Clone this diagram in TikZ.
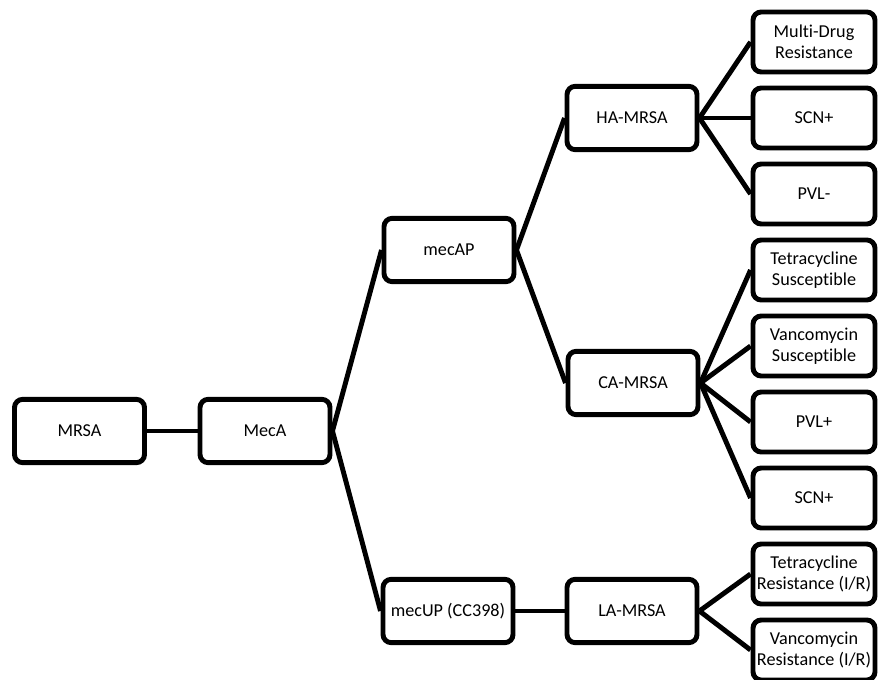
\documentclass[tikz,border=0pt]{standalone}
\usepackage{fontspec}
\setmainfont{Carlito}[Ligatures=NoCommon]

\begin{document}
\begin{tikzpicture}[x=0.03cm,y=-0.03cm,line width=4.2pt,
		every node/.style={font=\fontsize{15.5}{18}\selectfont,align=center,inner sep=2pt},
		type box/.style={draw,rounded corners=7pt,minimum width=3.9cm,minimum height=1.9cm},
		trait box/.style={draw,rounded corners=7pt,minimum width=3.66cm,minimum height=1.8cm}]
		\useasboundingbox (0,0) rectangle (879,679);

		\node [type box] (mrsa) at (79.5,431) {MRSA};
		\node [type box] (meca) at (265,431) {MecA};
		\node [type box] (mecap) at (449,250) {mecAP};
		\node [type box] (mecup) at (448,611) {mecUP (CC398)};
		\node [type box] (ha) at (632,118) {HA-MRSA};
		\node [type box] (ca) at (633,383) {CA-MRSA};
		\node [type box] (la) at (632,611) {LA-MRSA};

		\node [trait box] (mdr) at (814,42) {Multi-Drug\\Resistance};
		\node [trait box] (scnha) at (814,118) {SCN+};
		\node [trait box] (pvlneg) at (814,194) {PVL-};
		\node [trait box] (tetsus) at (814,270) {Tetracycline\\Susceptible};
		\node [trait box] (vansus) at (814,346) {Vancomycin\\Susceptible};
		\node [trait box] (pvlpos) at (814,422) {PVL+};
		\node [trait box] (scnca) at (814,498) {SCN+};
		\node [trait box] (tetres) at (814,574) {Tetracycline\\Resistance (I/R)};
		\node [trait box] (vanres) at (814,650) {Vancomycin\\Resistance (I/R)};

		\foreach \from/\to in {mrsa/meca,meca/mecap,meca/mecup,mecap/ha,mecap/ca,mecup/la,
				ha/mdr,ha/scnha,ha/pvlneg,ca/tetsus,ca/vansus,ca/pvlpos,ca/scnca,la/tetres,la/vanres}
			\draw (\from.east) -- (\to.west);
\end{tikzpicture}
\end{document}
